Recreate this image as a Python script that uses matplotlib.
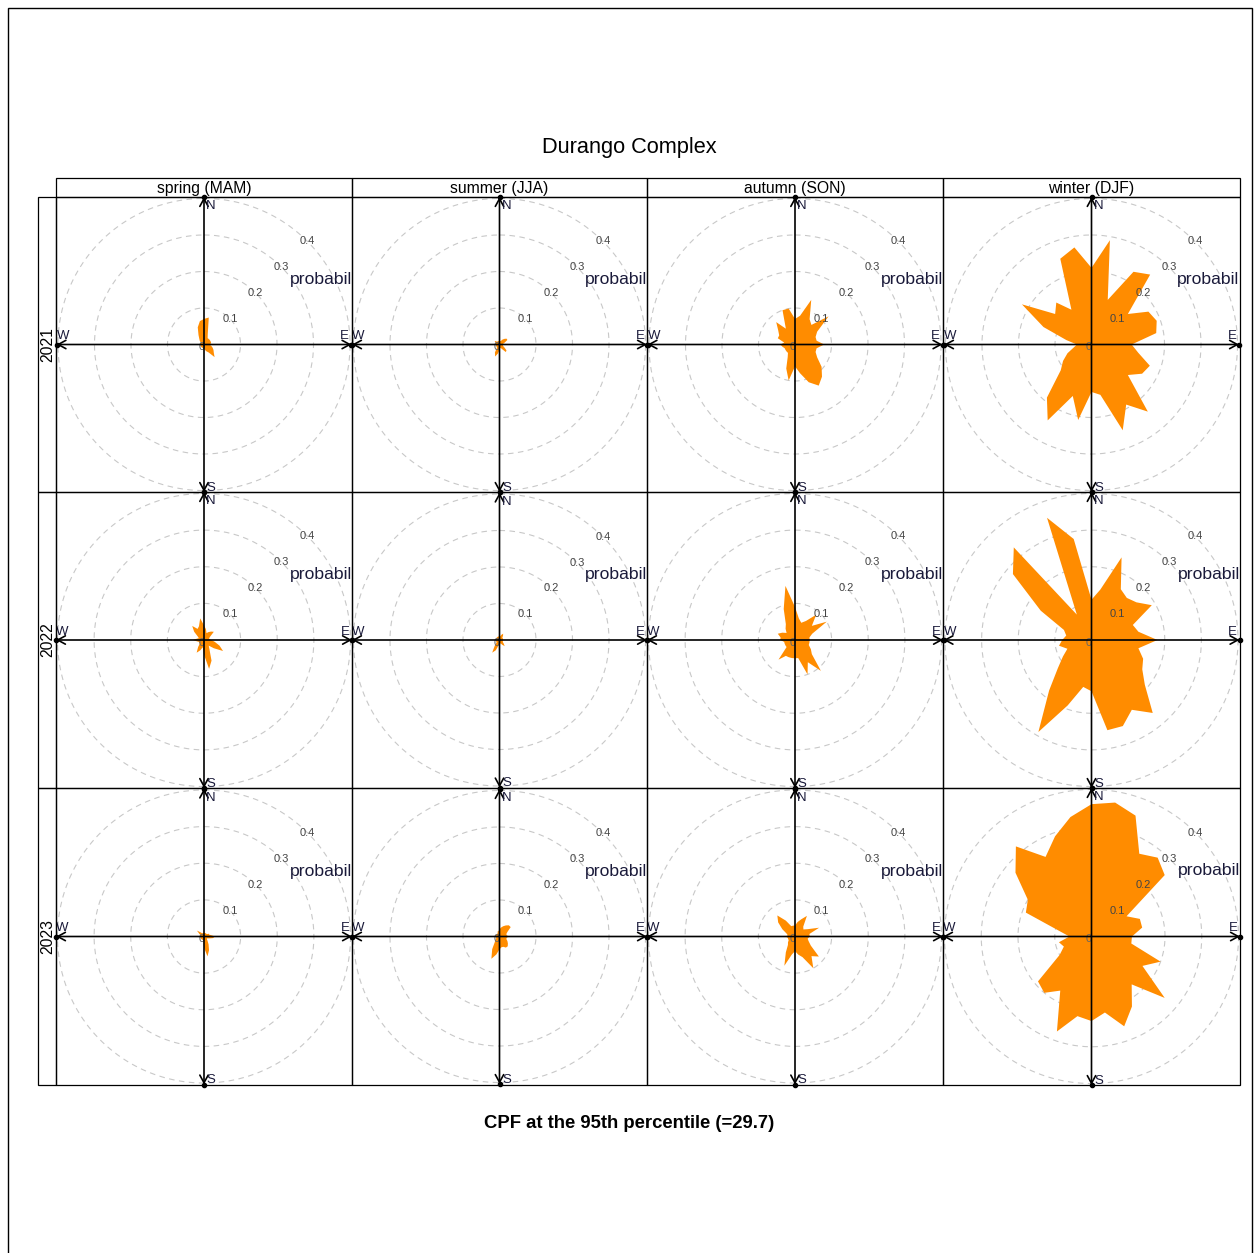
import numpy as np
import matplotlib
matplotlib.use('Agg')
import matplotlib.pyplot as plt
from matplotlib.patches import Rectangle

plt.rcParams['font.family'] = ['Liberation Sans', 'DejaVu Sans']

# wind direction bins (degrees from north) and CPF probability per bin
directions = np.arange(0, 360, 10)

seasons = ['spring (MAM)', 'summer (JJA)', 'autumn (SON)', 'winter (DJF)']
years = ['2021', '2022', '2023']
ring_values = [0.1, 0.2, 0.3, 0.4]

spring_2021 = [0.07, 0.075, 0.03, 0.02, 0.02, 0.02, 0.02, 0.02, 0.02, 0.015, 0.02, 0.025,
               0.03, 0.035, 0.045, 0.025, 0.02, 0.015, 0.01, 0.01, 0.01, 0.01, 0.01, 0.01,
               0.01, 0.01, 0.01, 0.01, 0.01, 0.01, 0.01, 0.015, 0.02, 0.03, 0.05, 0.065]
spring_2022 = [0.04, 0.03, 0.02, 0.025, 0.03, 0.035, 0.02, 0.015, 0.015, 0.02, 0.03, 0.045,
               0.06, 0.035, 0.02, 0.03, 0.06, 0.08, 0.04, 0.02, 0.03, 0.04, 0.025, 0.015,
               0.015, 0.015, 0.02, 0.03, 0.02, 0.015, 0.02, 0.035, 0.05, 0.035, 0.04, 0.06]
spring_2023 = [0.01, 0.01, 0.01, 0.01, 0.01, 0.01, 0.015, 0.015, 0.02, 0.03, 0.025, 0.015,
               0.01, 0.01, 0.015, 0.025, 0.04, 0.055, 0.03, 0.01, 0.01, 0.01, 0.01, 0.01,
               0.01, 0.01, 0.01, 0.01, 0.01, 0.01, 0.015, 0.025, 0.015, 0.01, 0.01, 0.01]
summer_2021 = [0.01, 0.01, 0.01, 0.015, 0.02, 0.025, 0.025, 0.015, 0.01, 0.01, 0.01, 0.01,
               0.015, 0.025, 0.027, 0.015, 0.01, 0.01, 0.015, 0.025, 0.035, 0.025, 0.01, 0.01,
               0.01, 0.01, 0.01, 0.01, 0.01, 0.01, 0.015, 0.015, 0.01, 0.01, 0.01, 0.01]
summer_2022 = [0.01, 0.01, 0.015, 0.02, 0.015, 0.01, 0.01, 0.01, 0.01, 0.01, 0.01, 0.01,
               0.01, 0.015, 0.022, 0.015, 0.01, 0.01, 0.01, 0.015, 0.03, 0.04, 0.02, 0.01,
               0.01, 0.01, 0.01, 0.01, 0.01, 0.01, 0.01, 0.01, 0.01, 0.01, 0.01, 0.01]
summer_2023 = [0.02, 0.025, 0.03, 0.035, 0.04, 0.04, 0.025, 0.02, 0.02, 0.025, 0.02, 0.02,
               0.025, 0.03, 0.035, 0.035, 0.03, 0.03, 0.035, 0.05, 0.065, 0.04, 0.02, 0.015,
               0.01, 0.01, 0.01, 0.01, 0.01, 0.01, 0.01, 0.01, 0.01, 0.01, 0.015, 0.015]
autumn_2021 = [0.07, 0.08, 0.13, 0.08, 0.07, 0.12, 0.07, 0.06, 0.06, 0.08, 0.06, 0.06,
               0.07, 0.095, 0.115, 0.13, 0.11, 0.08, 0.06, 0.10, 0.07, 0.04, 0.03, 0.03,
               0.03, 0.03, 0.035, 0.04, 0.03, 0.05, 0.05, 0.06, 0.08, 0.05, 0.10, 0.10]
autumn_2022 = [0.09, 0.06, 0.05, 0.06, 0.09, 0.06, 0.10, 0.05, 0.04, 0.04, 0.04, 0.04,
               0.05, 0.06, 0.11, 0.07, 0.10, 0.05, 0.05, 0.05, 0.05, 0.05, 0.07, 0.03,
               0.03, 0.03, 0.03, 0.04, 0.04, 0.05, 0.04, 0.03, 0.04, 0.05, 0.09, 0.15]
autumn_2023 = [0.03, 0.04, 0.05, 0.065, 0.035, 0.03, 0.04, 0.07, 0.04, 0.04, 0.035, 0.04,
               0.05, 0.085, 0.07, 0.10, 0.06, 0.05, 0.04, 0.05, 0.085, 0.05, 0.03, 0.025,
               0.02, 0.02, 0.02, 0.025, 0.02, 0.025, 0.04, 0.06, 0.075, 0.05, 0.03, 0.03]
winter_2021 = [0.21, 0.29, 0.13, 0.23, 0.25, 0.13, 0.18, 0.19, 0.18, 0.11, 0.13, 0.17,
               0.16, 0.13, 0.24, 0.19, 0.25, 0.14, 0.13, 0.21, 0.15, 0.24, 0.19, 0.11,
               0.09, 0.07, 0.05, 0.04, 0.07, 0.14, 0.22, 0.13, 0.15, 0.11, 0.25, 0.27]
winter_2022 = [0.11, 0.14, 0.24, 0.16, 0.15, 0.16, 0.19, 0.12, 0.13, 0.18, 0.13, 0.15,
               0.16, 0.19, 0.26, 0.22, 0.25, 0.25, 0.14, 0.13, 0.19, 0.29, 0.18, 0.12,
               0.09, 0.07, 0.09, 0.08, 0.07, 0.08, 0.16, 0.28, 0.33, 0.08, 0.355, 0.28]
winter_2023 = [0.36, 0.37, 0.35, 0.26, 0.28, 0.26, 0.11, 0.14, 0.14, 0.11, 0.11, 0.20,
               0.16, 0.26, 0.17, 0.22, 0.26, 0.21, 0.23, 0.22, 0.275, 0.17, 0.20, 0.19,
               0.10, 0.08, 0.09, 0.06, 0.09, 0.19, 0.20, 0.27, 0.32, 0.25, 0.29, 0.33]

# rows = years, columns = seasons
panels = [[spring_2021, summer_2021, autumn_2021, winter_2021],
          [spring_2022, summer_2022, autumn_2022, winter_2022],
          [spring_2023, summer_2023, autumn_2023, winter_2023]]

W, H = 1259, 1253
fig = plt.figure(figsize=(W / 100, H / 100), dpi=100)

def fx(x):
    return x / W

def fy(y):
    return 1 - y / H

col_edges = [56, 352, 647, 943, 1240]
row_edges = [197, 492, 788, 1085]
rmax = 0.404
orange = '#FF8C00'

# page frame
fig.add_artist(Rectangle((fx(8), fy(1260)), fx(1252) - fx(8), fy(8) - fy(1260),
                         transform=fig.transFigure, fill=False, ec='black', lw=1.0))

fig.text(0.5, fy(148), 'Durango Complex', ha='center', va='center', fontsize=15.7)
fig.text(0.5, fy(1123), 'CPF at the 95th percentile (=29.7)', ha='center', va='center',
         fontsize=13.3, fontweight='bold')

for c, season in enumerate(seasons):
    x0, x1 = col_edges[c], col_edges[c + 1]
    fig.add_artist(Rectangle((fx(x0), fy(197)), fx(x1) - fx(x0), fy(178) - fy(197),
                             transform=fig.transFigure, fill=False, ec='black', lw=0.9))
    fig.text((fx(x0) + fx(x1)) / 2, fy(188), season, ha='center', va='center', fontsize=11.3)

for r, year in enumerate(years):
    y0, y1 = row_edges[r], row_edges[r + 1]
    fig.add_artist(Rectangle((fx(38), fy(y1)), fx(56) - fx(38), fy(y0) - fy(y1),
                             transform=fig.transFigure, fill=False, ec='black', lw=0.9))
    fig.text(fx(47.5), (fy(y0) + fy(y1)) / 2, year, ha='center', va='center',
             rotation=90, fontsize=11.3)

theta = np.deg2rad(directions)
circle_t = np.linspace(0, 2 * np.pi, 361)

for r in range(3):
    for c in range(4):
        x0, x1 = col_edges[c], col_edges[c + 1]
        y0, y1 = row_edges[r], row_edges[r + 1]
        fig.add_artist(Rectangle((fx(x0), fy(y1)), fx(x1) - fx(x0), fy(y0) - fy(y1),
                                 transform=fig.transFigure, fill=False, ec='black', lw=0.9))
        ax = fig.add_axes([fx(x0), fy(y1), fx(x1) - fx(x0), fy(y0) - fy(y1)],
                          projection='polar')
        ax.set_theta_zero_location('N')
        ax.set_theta_direction(-1)
        ax.set_ylim(0, rmax)
        ax.axis('off')

        for rv in ring_values:
            ax.plot(circle_t, np.full_like(circle_t, rv), color='#c8c8c8', lw=0.8,
                    ls=(0, (5, 4)), zorder=1)

        vals = panels[r][c]
        ax.fill(np.append(theta, theta[0]), np.append(vals, vals[0]),
                color=orange, lw=0, zorder=2)

        for rv in ring_values:
            ax.text(np.deg2rad(45), rv, f'{rv:.1f}', ha='center', va='center',
                    fontsize=8, color='#444444', zorder=4)
        t = ax.text(np.deg2rad(52.8), 0.295, 'probability', ha='left', va='center',
                    fontsize=12.6, color='#1a1a3a', zorder=4)
        t.set_clip_box(ax.bbox)
        t.set_clip_on(True)
        ax.annotate('0', xy=(0, 0), xytext=(-2, -2), textcoords='offset points',
                    ha='center', va='center', fontsize=8, color='#666666', zorder=4)

        # compass axes with arrows
        for ang in [0, 90, 180, 270]:
            a = np.deg2rad(ang)
            ax.annotate('', xy=(a, rmax), xytext=(a, 0),
                        arrowprops=dict(arrowstyle='->,head_length=0.55,head_width=0.3',
                                        color='black', lw=1.2, shrinkA=0, shrinkB=0),
                        annotation_clip=False, zorder=5)
            ax.plot([a], [rmax], 'o', color='black', ms=3, clip_on=False, zorder=5)
        for lab, ang, off in [('N', 0, (5, -6.5)), ('S', 180, (5, 3)),
                              ('W', 270, (4.5, 6)), ('E', 90, (-5, 6))]:
            ax.annotate(lab, xy=(np.deg2rad(ang), rmax), xytext=off,
                        textcoords='offset points', ha='center', va='center',
                        fontsize=9.5, color='#1a1a3a', annotation_clip=False, zorder=6)

fig.savefig('out.png', dpi=100)
